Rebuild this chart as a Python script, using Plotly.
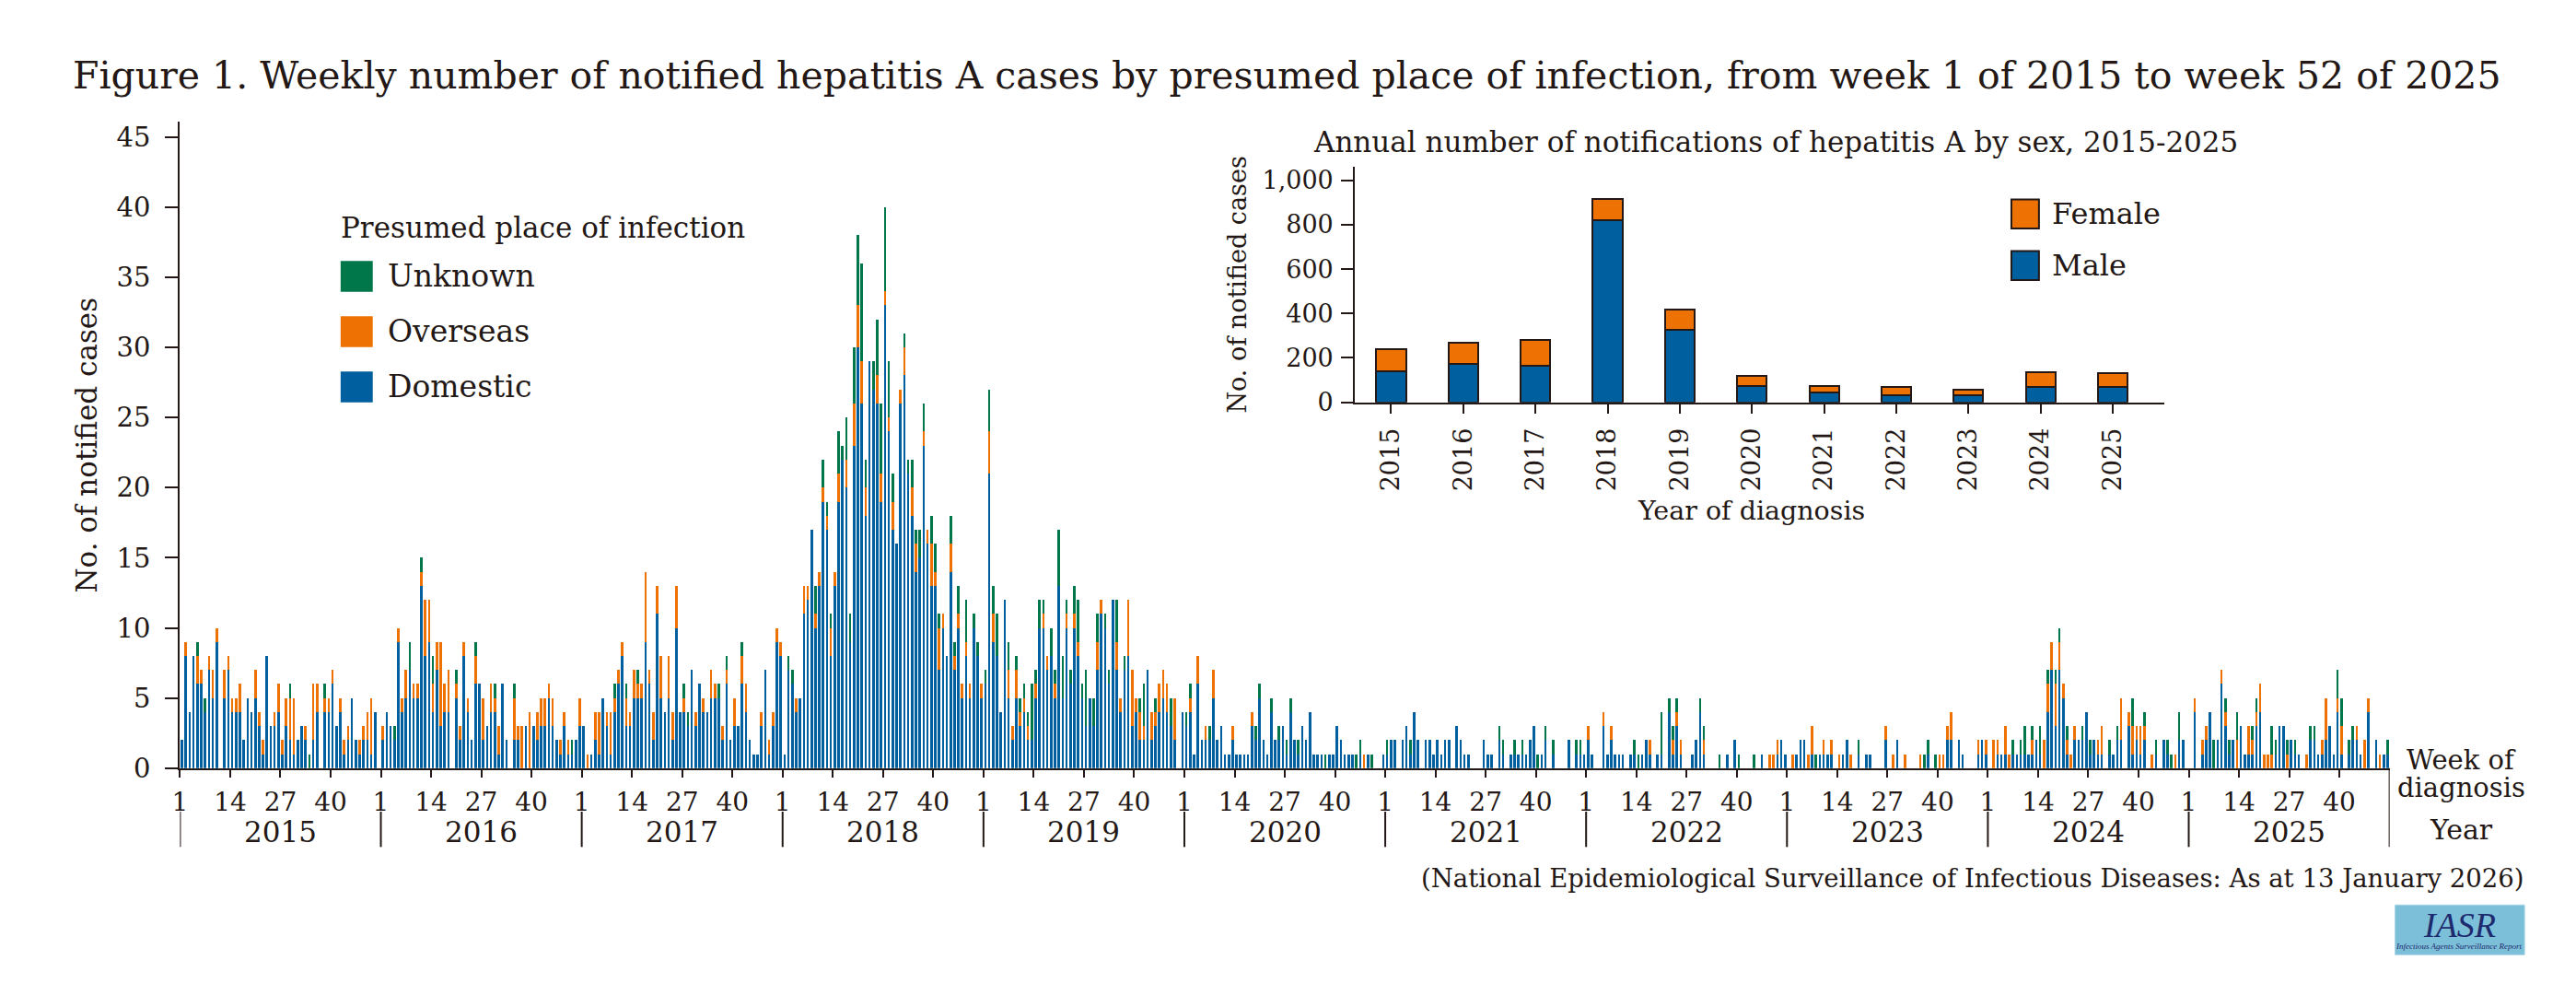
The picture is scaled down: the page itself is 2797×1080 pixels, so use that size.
import plotly.graph_objects as go

# ---------------- data ----------------
YEARS = [2015, 2016, 2017, 2018, 2019, 2020, 2021, 2022, 2023, 2024, 2025]
WEEKS_PER_YEAR = 52
WEEK_TICKS = [1, 14, 27, 40]

DOMESTIC_2015 = [2,8,4,8,6,6,4,7,5,9, 0,5,7,4,4,4,2,5,4,5, 3,1,8,3,3,4,1,3,2,1, 2,3,2,0,2,4,0,4,4,6, 3,4,1,2,5,2,1,2,2,1, 4,0]
OVERSEAS_2015 = [0,1,0,0,2,1,0,1,2,1, 0,2,1,1,1,2,0,0,0,2, 1,1,0,0,1,2,1,2,3,4, 0,0,1,0,4,2,0,1,1,1, 0,1,1,1,0,0,1,1,2,4, 0,0]
UNKNOWN_2015 = [0,0,0,0,1,0,1,0,0,0, 0,0,0,0,0,0,0,0,0,0, 0,0,0,0,0,0,0,0,1,0, 0,0,0,1,0,0,0,1,0,0, 0,0,0,0,0,0,0,0,0,0, 0,0]

DOMESTIC_2016 = [2,4,3,2,9,4,5,7,5,5, 13,8,9,4,7,3,4,4,0,5, 2,8,4,2,6,6,2,3,4,4, 1,6,2,0,2,2,0,3,0,3, 2,3,3,5,3,2,1,3,1,1, 2,3]
OVERSEAS_2016 = [1,0,0,0,1,1,2,0,1,1, 1,4,3,2,2,6,2,3,0,1, 1,1,1,0,2,0,3,0,2,1, 2,0,0,0,3,1,3,0,4,0, 2,2,2,1,2,0,1,1,1,0, 0,2]
UNKNOWN_2016 = [0,0,0,1,0,0,0,2,0,0, 1,0,0,2,0,0,0,0,0,1, 0,0,0,0,1,0,0,0,0,1, 0,0,0,0,1,0,0,0,0,0, 0,0,0,0,0,0,0,0,0,1, 0,0]

DOMESTIC_2017 = [3,0,1,2,1,5,3,1,4,6, 8,3,3,5,5,5,9,6,2,11, 5,4,5,2,10,4,4,3,7,3, 6,4,4,5,5,5,2,6,2,3, 3,6,4,2,1,1,3,7,1,3, 9,8]
OVERSEAS_2017 = [0,1,0,2,3,0,1,3,1,1, 1,2,1,2,1,1,5,1,2,2, 3,0,3,2,3,0,1,0,0,1, 0,1,0,2,1,0,1,1,0,2, 0,2,2,0,0,0,1,0,1,1, 1,1]
UNKNOWN_2017 = [0,0,0,0,0,0,0,0,1,0, 0,1,0,0,1,0,0,0,0,0, 0,0,0,0,0,0,1,1,0,0, 0,0,0,0,0,1,0,1,0,0, 0,1,0,0,0,0,0,0,0,0, 0,0]

DOMESTIC_2018 = [1,7,6,4,5,11,12,17,10,13, 19,17,8,13,19,22,20,9,23,30, 26,18,29,27,26,19,33,24,17,16, 26,28,21,18,14,15,23,16,13,13, 7,10,8,14,7,10,5,8,5,10, 8,5]
OVERSEAS_2018 = [0,0,0,1,0,2,1,0,1,1, 1,1,2,1,2,0,2,0,3,3, 3,2,0,0,2,2,1,1,2,0, 1,2,0,2,2,0,1,1,3,1, 3,1,0,2,1,1,1,1,1,0, 0,1]
UNKNOWN_2018 = [0,1,1,0,0,0,0,0,2,0, 2,1,1,0,3,1,3,2,4,5, 7,2,0,2,4,5,6,4,2,0, 0,1,1,2,1,2,2,0,2,2, 1,0,0,2,1,2,0,3,0,1, 1,0]

DOMESTIC_2019 = [6,21,9,8,4,12,5,2,5,3, 4,2,2,5,10,10,7,8,5,13, 5,10,6,10,8,5,3,5,3,7, 11,10,6,12,7,4,7,8,3,4, 2,2,7,2,3,4,5,4,3,2, 0,4]
OVERSEAS_2019 = [0,3,2,0,0,0,2,1,2,1, 1,1,0,1,0,1,1,0,1,0, 0,1,0,1,1,0,0,0,0,2, 1,0,0,0,2,1,0,4,4,1, 2,1,0,2,1,2,2,2,0,3, 0,0]
UNKNOWN_2019 = [1,3,2,3,0,0,2,0,1,1, 1,1,4,1,2,1,0,2,1,4, 3,1,1,2,3,1,4,0,2,2, 0,1,1,0,3,0,1,0,0,0, 1,3,0,0,1,0,0,0,2,0, 0,0]

DOMESTIC_2020 = [3,4,1,6,2,2,2,5,2,3, 1,1,2,1,1,1,1,3,2,5, 2,1,4,2,2,3,1,4,2,1, 3,2,4,1,1,1,0,1,1,3, 2,1,1,1,0,1,0,1,0,0, 0,1]
OVERSEAS_2020 = [0,1,0,2,0,1,0,2,0,0, 0,0,1,0,0,0,0,1,0,0, 0,0,0,0,0,0,0,0,0,0, 0,0,0,0,0,0,0,0,0,0, 0,0,0,0,0,0,1,0,0,0, 0,0]
UNKNOWN_2020 = [1,1,0,0,0,0,1,0,0,0, 0,0,0,0,0,0,0,0,1,1, 0,0,1,0,1,0,1,1,0,1, 0,0,0,0,0,0,1,0,0,0, 0,0,0,0,1,1,0,0,1,0, 0,0]

DOMESTIC_2021 = [1,2,2,0,2,3,1,4,2,0, 2,2,1,2,1,2,2,0,3,2, 1,1,0,0,0,2,1,1,0,2, 1,0,1,1,1,1,1,2,3,0, 1,2,0,1,0,0,0,2,0,1, 1,1]
OVERSEAS_2021 = [0,0,0,0,0,0,0,0,0,0, 0,0,0,0,0,0,0,0,0,0, 0,0,0,0,0,0,0,0,0,0, 0,0,0,0,0,0,0,0,0,0, 0,0,0,0,0,0,0,0,0,0, 0,0]
UNKNOWN_2021 = [1,0,0,0,0,0,1,0,0,0, 0,0,0,0,0,0,0,0,0,0, 0,0,0,0,0,0,0,0,0,1, 1,0,0,1,0,1,0,0,0,1, 0,1,0,1,0,0,0,0,0,1, 1,0]

DOMESTIC_2022 = [2,1,0,0,3,1,2,1,1,1, 0,1,1,0,1,2,1,0,1,1, 0,4,1,3,1,0,0,1,2,4, 1,0,0,0,0,0,1,0,2,0, 0,0,0,0,0,1,0,0,0,1, 2,1]
OVERSEAS_2022 = [1,0,0,0,1,0,1,0,0,0, 0,0,0,0,0,0,1,0,0,0, 0,0,1,1,1,0,0,0,0,0, 1,0,0,0,0,0,0,0,0,0, 0,0,0,0,0,0,0,1,1,1, 0,0]
UNKNOWN_2022 = [0,0,0,0,0,0,0,0,0,0, 0,0,1,1,0,0,0,0,0,3, 0,1,1,1,0,0,0,0,0,1, 1,0,0,0,1,0,0,0,0,1, 0,0,0,1,0,0,0,0,0,0, 0,0]

DOMESTIC_2023 = [0,0,1,2,2,0,1,0,1,1, 1,1,0,0,1,2,0,0,1,0, 1,1,0,0,0,2,0,0,2,0, 0,0,0,0,0,0,1,0,0,0, 0,2,2,0,2,1,0,0,0,1, 2,1]
OVERSEAS_2023 = [0,1,0,0,0,1,2,0,0,1, 0,1,0,1,0,0,1,0,0,0, 0,0,0,0,0,1,0,1,0,0, 1,0,0,0,1,0,0,0,0,1, 1,1,2,0,0,0,0,0,0,1, 0,1]
UNKNOWN_2023 = [0,0,0,0,0,0,0,1,0,0, 0,0,0,0,0,0,0,0,1,0, 0,0,0,0,0,0,0,0,0,0, 0,0,0,0,0,1,1,0,1,0, 0,0,0,0,0,0,0,0,0,0, 0,0]

DOMESTIC_2024 = [0,0,1,1,1,0,1,1,1,1, 1,1,2,1,0,4,7,3,7,5, 1,0,2,2,2,4,1,2,1,1, 0,1,1,2,2,0,3,1,2,1, 2,0,0,1,0,2,1,0,0,2, 2,0]
OVERSEAS_2024 = [0,2,1,0,2,1,0,0,0,0, 0,1,0,0,2,2,2,3,2,1, 1,1,1,0,0,0,0,0,1,2, 0,0,0,0,3,0,1,2,1,2, 1,0,1,0,0,0,0,0,1,0, 0,0]
UNKNOWN_2024 = [0,0,0,0,0,0,1,0,1,2, 0,1,0,2,0,1,0,1,1,0, 1,0,0,0,1,0,1,0,0,0, 0,1,0,1,0,0,0,2,0,0, 1,0,0,1,0,0,1,1,0,2, 0,0]

DOMESTIC_2025 = [0,4,0,1,2,4,0,2,6,3, 1,2,0,3,1,1,1,3,4,0, 0,0,1,3,3,0,2,1,1,0, 0,2,2,1,1,2,3,1,4,1, 0,1,2,2,1,0,4,0,2,0, 1,1]
OVERSEAS_2025 = [0,1,0,1,1,0,0,0,1,1, 0,0,2,0,0,2,1,1,2,1, 1,1,0,0,0,1,0,0,0,0, 1,0,0,0,1,3,0,0,1,2, 0,0,0,1,0,2,1,0,0,1, 0,0]
UNKNOWN_2025 = [0,0,0,0,0,0,2,0,0,1, 1,0,2,0,0,0,1,1,0,0, 0,2,1,0,0,1,0,1,0,0, 0,1,1,0,0,0,0,0,2,2, 0,1,1,0,0,0,0,0,0,0, 0,1]

# inset: annual notifications by sex
ANNUAL_MALE = [141, 174, 163, 822, 327, 73, 44, 31, 30, 71, 68]
ANNUAL_FEMALE = [97, 94, 119, 92, 92, 47, 28, 38, 26, 65, 64]

# ---------------- assemble series ----------------
DOMESTIC_BY_YEAR = [DOMESTIC_2015, DOMESTIC_2016, DOMESTIC_2017, DOMESTIC_2018, DOMESTIC_2019,
                    DOMESTIC_2020, DOMESTIC_2021, DOMESTIC_2022, DOMESTIC_2023, DOMESTIC_2024, DOMESTIC_2025]
OVERSEAS_BY_YEAR = [OVERSEAS_2015, OVERSEAS_2016, OVERSEAS_2017, OVERSEAS_2018, OVERSEAS_2019,
                    OVERSEAS_2020, OVERSEAS_2021, OVERSEAS_2022, OVERSEAS_2023, OVERSEAS_2024, OVERSEAS_2025]
UNKNOWN_BY_YEAR = [UNKNOWN_2015, UNKNOWN_2016, UNKNOWN_2017, UNKNOWN_2018, UNKNOWN_2019,
                   UNKNOWN_2020, UNKNOWN_2021, UNKNOWN_2022, UNKNOWN_2023, UNKNOWN_2024, UNKNOWN_2025]

x_idx, dom, ovs, unk = [], [], [], []
for yi, year in enumerate(YEARS):
    for w in range(WEEKS_PER_YEAR):
        x_idx.append(yi * WEEKS_PER_YEAR + w)
        dom.append(DOMESTIC_BY_YEAR[yi][w])
        ovs.append(OVERSEAS_BY_YEAR[yi][w])
        unk.append(UNKNOWN_BY_YEAR[yi][w])
N = len(x_idx)

# ---------------- style ----------------
PAGE_W, PAGE_H = 2797, 1080
OFF = 8  # default body margin of the html page
W, H = PAGE_W - 2 * OFF, PAGE_H - 2 * OFF
INK = "#231815"
BLUE = "#005f9f"
ORANGE = "#ee7203"
GREEN = "#00774a"
FONT = "DejaVu Serif"


def px(x):
    return (x - OFF) / W


def py(y):
    return 1 - (y - OFF) / H


fig = go.Figure()
bw = 0.62
fig.add_trace(go.Bar(x=x_idx, y=dom, width=bw, marker=dict(color=BLUE, line=dict(width=0)),
                     name="Domestic", showlegend=False))
fig.add_trace(go.Bar(x=x_idx, y=ovs, width=bw, marker=dict(color=ORANGE, line=dict(width=0)),
                     name="Overseas", showlegend=False))
fig.add_trace(go.Bar(x=x_idx, y=unk, width=bw, marker=dict(color=GREEN, line=dict(width=0)),
                     name="Unknown", showlegend=False))

year_labels = [str(y) for y in YEARS]
fig.add_trace(go.Bar(x=year_labels, y=ANNUAL_MALE, xaxis="x2", yaxis="y2", width=0.41,
                     marker=dict(color=BLUE, line=dict(color=INK, width=2)), name="Male", showlegend=False))
fig.add_trace(go.Bar(x=year_labels, y=ANNUAL_FEMALE, xaxis="x2", yaxis="y2", width=0.41,
                     marker=dict(color=ORANGE, line=dict(color=INK, width=2)), name="Female", showlegend=False))

tickvals, ticktext = [], []
for yi in range(len(YEARS)):
    for wk in WEEK_TICKS:
        tickvals.append(yi * WEEKS_PER_YEAR + wk - 1 - 0.5)
        ticktext.append(str(wk))

axis_common = dict(showgrid=False, zeroline=False, showline=True, linecolor=INK,
                   ticks="outside", tickcolor=INK)

fig.update_layout(
    width=W, height=H,
    margin=dict(l=0, r=0, t=0, b=0, pad=0),
    paper_bgcolor="white", plot_bgcolor="rgba(0,0,0,0)",
    barmode="stack",
    font=dict(family=FONT, color=INK),
    xaxis=dict(axis_common, domain=[px(187), px(2594)], range=[-0.5, N - 0.5],
               tickvals=tickvals, ticktext=ticktext, ticklen=8, tickwidth=2, linewidth=2.4,
               tickfont=dict(family=FONT, size=28, color=INK), ticklabelstandoff=2, anchor="y"),
    yaxis=dict(axis_common, domain=[py(847), py(133)], range=[0, 46.1],
               tickvals=list(range(0, 46, 5)), ticklen=14, tickwidth=2, linewidth=2.2,
               tickfont=dict(family=FONT, size=29, color=INK), ticklabelstandoff=10, anchor="x"),
    xaxis2=dict(axis_common, domain=[px(1467), px(2349)], range=[-0.5, 10.72], type="category",
                tickangle=-90, ticklen=10, tickwidth=2, linewidth=2.4,
                tickfont=dict(family=FONT, size=27, color=INK), anchor="y2", ticklabelstandoff=5),
    yaxis2=dict(axis_common, domain=[py(443), py(183)], range=[0, 1061],
                tickvals=[0, 200, 400, 600, 800, 1000], tickformat=",d", ticklen=13, tickwidth=2,
                linewidth=2.2, tickfont=dict(family=FONT, size=27, color=INK), anchor="x2",
                ticklabelstandoff=3),
)

ann = []
shapes = []


def text(t, x, y, size, xanchor="center", angle=0, xref="paper"):
    ann.append(dict(text=t, x=x, y=y, xref=xref, yref="paper", xanchor=xanchor, yanchor="middle",
                    textangle=angle, showarrow=False, borderpad=0,
                    font=dict(family=FONT, size=size, color=INK)))


# title
text("Figure 1. Weekly number of notified hepatitis A cases by presumed place of infection, "
     "from week 1 of 2015 to week 52 of 2025", px(69), py(82), 41, xanchor="left")
# main y title
text("No. of notified cases", px(85), py(490), 31, angle=-90)
# year labels & dividers
for yi, year in enumerate(YEARS):
    text(str(year), yi * WEEKS_PER_YEAR + (WEEKS_PER_YEAR - 1) / 2, py(917), 31, xref="x")
for yi in range(len(YEARS) + 1):
    xv = yi * WEEKS_PER_YEAR - 0.5
    y_top = py(847) if yi == len(YEARS) else py(895)
    shapes.append(dict(type="line", xref="x", yref="paper", x0=xv, x1=xv, y0=y_top, y1=py(934),
                       line=dict(color=INK, width=2)))
text("Week of", px(2672), py(838), 29)
text("diagnosis", px(2672), py(869), 29)
text("Year", px(2672), py(915), 30)
# source
text("(National Epidemiological Surveillance of Infectious Diseases: As at 13 January 2026)",
     px(2742), py(968), 27.5, xanchor="right")

# main legend (drawn)
text("Presumed place of infection", px(361), py(250), 31, xanchor="left")
for label, color, yc in [("Unknown", GREEN, 304), ("Overseas", ORANGE, 365), ("Domestic", BLUE, 426)]:
    shapes.append(dict(type="rect", xref="paper", yref="paper", x0=px(362), x1=px(397),
                       y0=py(yc - 17), y1=py(yc + 17), fillcolor=color, line=dict(width=0)))
    text(label, px(412), py(yc), 33, xanchor="left")

# inset texts
text("Annual number of notifications of hepatitis A by sex, 2015-2025", px(1925), py(155), 31)
text("No. of notified cases", px(1339), py(313), 27, angle=-90)
text("Year of diagnosis", px(1899), py(563), 28.5)
for label, color, yc in [("Female", ORANGE, 235), ("Male", BLUE, 292)]:
    shapes.append(dict(type="rect", xref="paper", yref="paper", x0=px(2182), x1=px(2212),
                       y0=py(yc - 16), y1=py(yc + 16), fillcolor=color, line=dict(color=INK, width=2)))
    text(label, px(2225), py(yc), 32, xanchor="left")

# IASR badge
shapes.append(dict(type="rect", xref="paper", yref="paper", x0=px(2600), x1=px(2741), y0=py(1053), y1=py(998),
                   fillcolor="#7cbfd9", line=dict(color="#a8d4e6", width=1)))
ann.append(dict(text="<i>IASR</i>", x=px(2670), y=py(1020), xref="paper", yref="paper", showarrow=False,
                xanchor="center", yanchor="middle", font=dict(family="Liberation Serif", size=38, color="#1d2a6e")))
ann.append(dict(text="<i>Infectious Agents Surveillance Report</i>", x=px(2670), y=py(1044), xref="paper",
                yref="paper", showarrow=False, xanchor="center", yanchor="middle",
                font=dict(family="Liberation Serif", size=9, color="#1d2a6e")))

fig.update_layout(annotations=ann, shapes=shapes)
fig.write_html("out.html")
